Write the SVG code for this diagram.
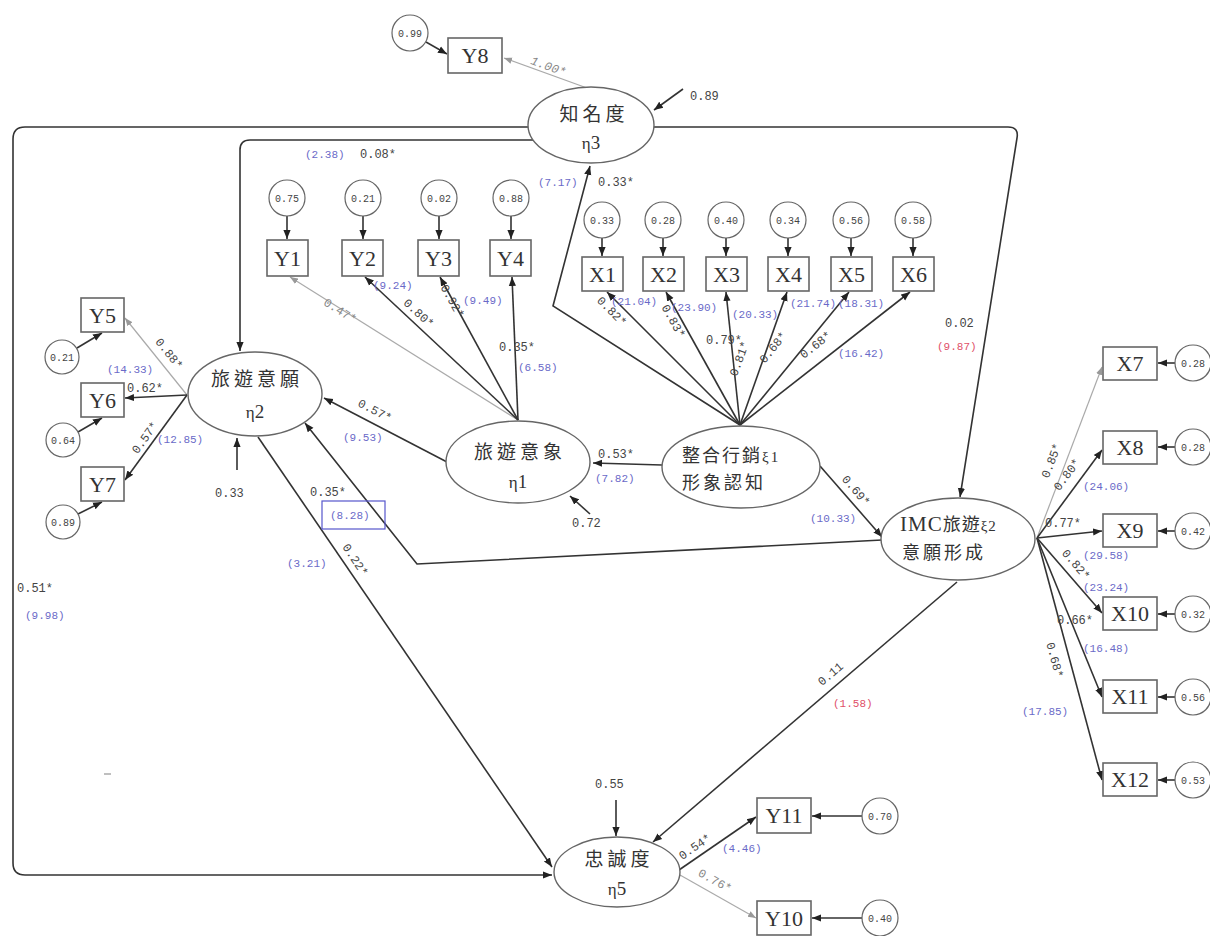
<svg xmlns="http://www.w3.org/2000/svg" width="1210" height="936" viewBox="0 0 1210 936">
<defs>
<marker id="ah" viewBox="0 0 10 10" refX="10" refY="5" markerWidth="9" markerHeight="9" markerUnits="userSpaceOnUse" orient="auto"><path d="M0,1 L10,5 L0,9 z" fill="#222"/></marker>
<marker id="ahg" viewBox="0 0 10 10" refX="10" refY="5" markerWidth="8" markerHeight="8" markerUnits="userSpaceOnUse" orient="auto"><path d="M0,1 L10,5 L0,9 z" fill="#999"/></marker>
</defs>
<style>
.ln{fill:none;stroke:#333;stroke-width:1.6}
.lg{fill:none;stroke:#aaa;stroke-width:1.2}
.bx{fill:#fff;stroke:#666;stroke-width:1.6}
.el{fill:#fff;stroke:#666;stroke-width:1.4}
.ci{fill:#fff;stroke:#666;stroke-width:1.2}
.bt{font-family:"Liberation Serif",serif;font-size:22px;fill:#333;text-anchor:middle}
.ct{font-family:"Liberation Mono",monospace;font-size:10px;fill:#444;text-anchor:middle}
.lb{font-family:"Liberation Mono",monospace;font-size:12px;fill:#444}
.lgt{font-family:"Liberation Mono",monospace;font-size:12px;fill:#888}
.bl{font-family:"Liberation Mono",monospace;font-size:11px;fill:#6a6ac8}
.rd{font-family:"Liberation Mono",monospace;font-size:11px;fill:#e05068}
.cj{font-family:"Noto Sans CJK TC",sans-serif;font-size:19px;fill:#333;text-anchor:middle}
.cs{font-family:"Noto Sans CJK TC",sans-serif;font-size:18px;fill:#333}
.et{font-family:"Liberation Serif",serif;font-size:19px;fill:#333;text-anchor:middle}
</style>
<rect width="1210" height="936" fill="#fff"/>

<g id="connectors">
  <path class="lg" d="M587,88 L504,58" marker-end="url(#ahg)"/>
  <path class="ln" d="M683,89 L654,110" marker-end="url(#ah)"/>
  <path class="ln" d="M533,140 H250 Q240,140 240,150 V351" marker-end="url(#ah)"/>
  <path class="ln" d="M528,127 H25 Q13,127 13,139 V863 Q13,875 25,875 H552" marker-end="url(#ah)"/>
  <path class="ln" d="M654,127 H1008 Q1019,127 1017,138 L960,497" marker-end="url(#ah)"/>
  <path class="ln" d="M740,425 L553,306 L590,166" marker-end="url(#ah)"/>
  <path class="lg" d="M518,420 L290,277" marker-end="url(#ahg)"/>
  <path class="ln" d="M518,420 L365,277" marker-end="url(#ah)"/>
  <path class="ln" d="M518,420 L440,277" marker-end="url(#ah)"/>
  <path class="ln" d="M518,420 L512,277" marker-end="url(#ah)"/>
  <path class="ln" d="M740,425 L607,292" marker-end="url(#ah)"/>
  <path class="ln" d="M740,425 L666,292" marker-end="url(#ah)"/>
  <path class="ln" d="M740,425 L726,292" marker-end="url(#ah)"/>
  <path class="ln" d="M740,425 L787,292" marker-end="url(#ah)"/>
  <path class="ln" d="M740,425 L849,292" marker-end="url(#ah)"/>
  <path class="ln" d="M740,425 L910,292" marker-end="url(#ah)"/>
  <path class="ln" d="M662,465 L593,463" marker-end="url(#ah)"/>
  <path class="ln" d="M447,462 L324,398" marker-end="url(#ah)"/>
  <path class="ln" d="M590,514 L570,496" marker-end="url(#ah)"/>
  <path class="ln" d="M237,470 L237,438" marker-end="url(#ah)"/>
  <path class="ln" d="M258,437 L552,867" marker-end="url(#ah)"/>
  <path class="ln" d="M882,540 L417,564 L305,423" marker-end="url(#ah)"/>
  <path class="ln" d="M820,466 L882,537" marker-end="url(#ah)"/>
  <path class="ln" d="M957,582 L653,842" marker-end="url(#ah)"/>
  <path class="ln" d="M616,800 L616,836" marker-end="url(#ah)"/>
  <path class="lg" d="M187,395 L125,318" marker-end="url(#ahg)"/>
  <path class="ln" d="M187,395 L125,398" marker-end="url(#ah)"/>
  <path class="ln" d="M187,395 L125,480" marker-end="url(#ah)"/>
  <path class="lg" d="M1037,538 L1102,367" marker-end="url(#ahg)"/>
  <path class="ln" d="M1037,538 L1102,450" marker-end="url(#ah)"/>
  <path class="ln" d="M1037,538 L1102,531" marker-end="url(#ah)"/>
  <path class="ln" d="M1037,538 L1102,613" marker-end="url(#ah)"/>
  <path class="ln" d="M1037,538 L1102,697" marker-end="url(#ah)"/>
  <path class="ln" d="M1037,538 L1102,780" marker-end="url(#ah)"/>
  <path class="ln" d="M679,870 L756,817" marker-end="url(#ah)"/>
  <path class="lg" d="M680,875 L756,918" marker-end="url(#ahg)"/>
  <path class="ln" d="M426,42 L447,54" marker-end="url(#ah)"/>
  <path class="ln" d="M287,216 V239" marker-end="url(#ah)"/>
  <path class="ln" d="M363,216 V239" marker-end="url(#ah)"/>
  <path class="ln" d="M439,216 V239" marker-end="url(#ah)"/>
  <path class="ln" d="M511,216 V239" marker-end="url(#ah)"/>
  <path class="ln" d="M602,238 V256" marker-end="url(#ah)"/>
  <path class="ln" d="M663,238 V256" marker-end="url(#ah)"/>
  <path class="ln" d="M726,238 V256" marker-end="url(#ah)"/>
  <path class="ln" d="M788,238 V256" marker-end="url(#ah)"/>
  <path class="ln" d="M851,238 V256" marker-end="url(#ah)"/>
  <path class="ln" d="M913,238 V256" marker-end="url(#ah)"/>
  <path class="ln" d="M77,348 L102,333" marker-end="url(#ah)"/>
  <path class="ln" d="M78,432 L102,418" marker-end="url(#ah)"/>
  <path class="ln" d="M78,514 L102,502" marker-end="url(#ah)"/>
  <path class="ln" d="M1175,363 H1158" marker-end="url(#ah)"/>
  <path class="ln" d="M1175,447 H1158" marker-end="url(#ah)"/>
  <path class="ln" d="M1175,531 H1158" marker-end="url(#ah)"/>
  <path class="ln" d="M1175,614 H1158" marker-end="url(#ah)"/>
  <path class="ln" d="M1175,697 H1158" marker-end="url(#ah)"/>
  <path class="ln" d="M1175,780 H1158" marker-end="url(#ah)"/>
  <path class="ln" d="M862,816 H812" marker-end="url(#ah)"/>
  <path class="ln" d="M862,918 H812" marker-end="url(#ah)"/>
  <line x1="104" y1="774" x2="111" y2="774" stroke="#aaa" stroke-width="1.5"/>

  <text class="lgt" font-style="italic" transform="translate(547,70) rotate(20)" text-anchor="middle">1.00*</text>
  <text class="lb" x="690" y="100">0.89</text>
  <text class="bl" x="305" y="158">(2.38)</text>
  <text class="lb" x="360" y="158">0.08*</text>
  <text class="bl" x="538" y="186">(7.17)</text>
  <text class="lb" x="598" y="186">0.33*</text>
  <text class="lgt" transform="translate(338,314) rotate(32)" text-anchor="middle">0.47*</text>
  <text class="lb" transform="translate(416,316) rotate(43)" text-anchor="middle">0.80*</text>
  <text class="lb" transform="translate(449,303) rotate(61)" text-anchor="middle">0.92*</text>
  <text class="bl" x="373" y="289">(9.24)</text>
  <text class="bl" x="463" y="304">(9.49)</text>
  <text class="lb" x="499" y="351">0.35*</text>
  <text class="bl" x="518" y="371">(6.58)</text>
  <text class="lb" transform="translate(609,314) rotate(45)" text-anchor="middle">0.82*</text>
  <text class="lb" transform="translate(670,323) rotate(61)" text-anchor="middle">0.83*</text>
  <text class="lb" x="706" y="344">0.79*</text>
  <text class="lb" transform="translate(743,360) rotate(-70)" text-anchor="middle">0.81*</text>
  <text class="lb" transform="translate(776,350) rotate(-51)" text-anchor="middle">0.68*</text>
  <text class="lb" transform="translate(818,348) rotate(-38)" text-anchor="middle">0.68*</text>
  <text class="bl" x="611" y="305">(21.04)</text>
  <text class="bl" x="671" y="311">(23.90)</text>
  <text class="bl" x="732" y="318">(20.33)</text>
  <text class="bl" x="790" y="307">(21.74)</text>
  <text class="bl" x="838" y="307">(18.31)</text>
  <text class="bl" x="838" y="357">(16.42)</text>
  <text class="lb" transform="translate(373,414) rotate(27)" text-anchor="middle">0.57*</text>
  <text class="bl" x="343" y="441">(9.53)</text>
  <text class="lb" x="598" y="458">0.53*</text>
  <text class="bl" x="595" y="482">(7.82)</text>
  <text class="lb" x="572" y="527">0.72</text>
  <text class="lb" transform="translate(166,356) rotate(51)" text-anchor="middle">0.88*</text>
  <text class="bl" x="107" y="373">(14.33)</text>
  <text class="lb" x="127" y="392">0.62*</text>
  <text class="lb" transform="translate(148,440) rotate(-54)" text-anchor="middle">0.57*</text>
  <text class="bl" x="157" y="443">(12.85)</text>
  <text class="lb" x="215" y="497">0.33</text>
  <text class="lb" x="310" y="496">0.35*</text>
  <rect x="322" y="501" width="63" height="28" fill="none" stroke="#5555cc" stroke-width="1.2"/>
  <text class="bl" x="330" y="519">(8.28)</text>
  <text class="lb" transform="translate(352,562) rotate(56)" text-anchor="middle">0.22*</text>
  <text class="bl" x="287" y="567">(3.21)</text>
  <text class="lb" x="17" y="592">0.51*</text>
  <text class="bl" x="25" y="619">(9.98)</text>
  <text class="lb" x="945" y="327">0.02</text>
  <text class="rd" x="937" y="350">(9.87)</text>
  <text class="lb" transform="translate(853,493) rotate(49)" text-anchor="middle">0.69*</text>
  <text class="bl" x="810" y="522">(10.33)</text>
  <text class="lb" transform="translate(833,677) rotate(-40.5)" text-anchor="middle">0.11</text>
  <text class="rd" x="833" y="707">(1.58)</text>
  <text class="lb" transform="translate(1055,462) rotate(-69)" text-anchor="middle">0.85*</text>
  <text class="lb" transform="translate(1070,477) rotate(-53)" text-anchor="middle">0.80*</text>
  <text class="bl" x="1083" y="490">(24.06)</text>
  <text class="lb" x="1045" y="527">0.77*</text>
  <text class="bl" x="1083" y="559">(29.58)</text>
  <text class="lb" transform="translate(1073,567) rotate(49)" text-anchor="middle">0.82*</text>
  <text class="bl" x="1083" y="591">(23.24)</text>
  <text class="lb" x="1057" y="624">0.66*</text>
  <text class="bl" x="1083" y="652">(16.48)</text>
  <text class="lb" transform="translate(1051,661) rotate(75)" text-anchor="middle">0.68*</text>
  <text class="bl" x="1022" y="715">(17.85)</text>
  <text class="lb" x="595" y="788">0.55</text>
  <text class="lb" transform="translate(697,850) rotate(-34.5)" text-anchor="middle">0.54*</text>
  <text class="bl" x="722" y="852">(4.46)</text>
  <text class="lgt" transform="translate(713,884) rotate(29.5)" text-anchor="middle">0.76*</text>
</g>

<g id="eta3"><ellipse class="el" cx="591" cy="125" rx="63" ry="38"/><text class="cj" x="594" y="121" letter-spacing="4">知名度</text><text class="et" x="591" y="149"><tspan font-size="17">η</tspan>3</text></g>
<g id="eta2"><ellipse class="el" cx="255" cy="394" rx="67" ry="42"/><text class="cj" x="257" y="386" letter-spacing="4">旅遊意願</text><text class="et" x="255" y="418"><tspan font-size="17">η</tspan>2</text></g>
<g id="eta1"><ellipse class="el" cx="518" cy="462" rx="72" ry="41"/><text class="cj" x="520" y="459" letter-spacing="4">旅遊意象</text><text class="et" x="518" y="488"><tspan font-size="17">η</tspan>1</text></g>
<g id="xi1"><ellipse class="el" cx="741" cy="467" rx="79" ry="41"/><text class="cs" x="682" y="462" letter-spacing="2">整合行銷<tspan font-family="Liberation Serif" font-size="15">ξ1</tspan></text><text class="cs" x="682" y="489" letter-spacing="3">形象認知</text></g>
<g id="xi2"><ellipse class="el" cx="958" cy="539" rx="77" ry="41"/><text class="cs" x="900" y="531" letter-spacing="1"><tspan font-family="Liberation Serif" font-size="21">IMC</tspan>旅遊<tspan font-family="Liberation Serif" font-size="15">ξ2</tspan></text><text class="cs" x="902" y="559" letter-spacing="3">意願形成</text></g>
<g id="eta5"><ellipse class="el" cx="617" cy="872" rx="63" ry="35"/><text class="cj" x="619" y="866" letter-spacing="4">忠誠度</text><text class="et" x="617" y="895"><tspan font-size="17">η</tspan>5</text></g>

<g id="Y8"><rect class="bx" x="448" y="38" width="54" height="35"/><text class="bt" x="475" y="63">Y8</text></g>
<g id="Y1"><rect class="bx" x="267" y="240" width="41" height="36"/><text class="bt" x="287.5" y="266">Y1</text></g>
<g id="Y2"><rect class="bx" x="342" y="240" width="41" height="36"/><text class="bt" x="362.5" y="266">Y2</text></g>
<g id="Y3"><rect class="bx" x="418" y="240" width="41" height="36"/><text class="bt" x="438.5" y="266">Y3</text></g>
<g id="Y4"><rect class="bx" x="490" y="240" width="41" height="36"/><text class="bt" x="510.5" y="266">Y4</text></g>
<g id="X1"><rect class="bx" x="582" y="257" width="41" height="34"/><text class="bt" x="602.5" y="282">X1</text></g>
<g id="X2"><rect class="bx" x="643" y="257" width="41" height="34"/><text class="bt" x="663.5" y="282">X2</text></g>
<g id="X3"><rect class="bx" x="706" y="257" width="41" height="34"/><text class="bt" x="726.5" y="282">X3</text></g>
<g id="X4"><rect class="bx" x="768" y="257" width="41" height="34"/><text class="bt" x="788.5" y="282">X4</text></g>
<g id="X5"><rect class="bx" x="831" y="257" width="41" height="34"/><text class="bt" x="851.5" y="282">X5</text></g>
<g id="X6"><rect class="bx" x="893" y="257" width="41" height="34"/><text class="bt" x="913.5" y="282">X6</text></g>
<g id="Y5"><rect class="bx" x="81" y="298" width="43" height="34"/><text class="bt" x="102.5" y="323">Y5</text></g>
<g id="Y6"><rect class="bx" x="81" y="383" width="43" height="34"/><text class="bt" x="102.5" y="408">Y6</text></g>
<g id="Y7"><rect class="bx" x="81" y="467" width="43" height="34"/><text class="bt" x="102.5" y="492">Y7</text></g>
<g id="X7"><rect class="bx" x="1103" y="347" width="54" height="33"/><text class="bt" x="1130" y="371">X7</text></g>
<g id="X8"><rect class="bx" x="1103" y="431" width="54" height="33"/><text class="bt" x="1130" y="455">X8</text></g>
<g id="X9"><rect class="bx" x="1103" y="514" width="54" height="33"/><text class="bt" x="1130" y="538">X9</text></g>
<g id="X10"><rect class="bx" x="1103" y="597" width="54" height="33"/><text class="bt" x="1130" y="621">X10</text></g>
<g id="X11"><rect class="bx" x="1103" y="680" width="54" height="33"/><text class="bt" x="1130" y="704">X11</text></g>
<g id="X12"><rect class="bx" x="1103" y="763" width="54" height="33"/><text class="bt" x="1130" y="787">X12</text></g>
<g id="Y11"><rect class="bx" x="757" y="798" width="54" height="35"/><text class="bt" x="784" y="823">Y11</text></g>
<g id="Y10"><rect class="bx" x="757" y="901" width="54" height="34"/><text class="bt" x="784" y="926">Y10</text></g>

<g id="errors">
  <g id="eY8"><circle class="ci" cx="410" cy="33" r="18"/><text class="ct" x="410" y="37">0.99</text></g>
  <g id="eY1"><circle class="ci" cx="287" cy="198" r="18"/><text class="ct" x="287" y="202">0.75</text></g>
  <g id="eY2"><circle class="ci" cx="363" cy="198" r="18"/><text class="ct" x="363" y="202">0.21</text></g>
  <g id="eY3"><circle class="ci" cx="439" cy="198" r="18"/><text class="ct" x="439" y="202">0.02</text></g>
  <g id="eY4"><circle class="ci" cx="511" cy="198" r="18"/><text class="ct" x="511" y="202">0.88</text></g>
  <g id="eX1"><circle class="ci" cx="602" cy="220" r="18"/><text class="ct" x="602" y="224">0.33</text></g>
  <g id="eX2"><circle class="ci" cx="663" cy="220" r="18"/><text class="ct" x="663" y="224">0.28</text></g>
  <g id="eX3"><circle class="ci" cx="726" cy="220" r="18"/><text class="ct" x="726" y="224">0.40</text></g>
  <g id="eX4"><circle class="ci" cx="788" cy="220" r="18"/><text class="ct" x="788" y="224">0.34</text></g>
  <g id="eX5"><circle class="ci" cx="851" cy="220" r="18"/><text class="ct" x="851" y="224">0.56</text></g>
  <g id="eX6"><circle class="ci" cx="913" cy="220" r="18"/><text class="ct" x="913" y="224">0.58</text></g>
  <g id="eY5"><circle class="ci" cx="62" cy="357" r="17"/><text class="ct" x="62" y="361">0.21</text></g>
  <g id="eY6"><circle class="ci" cx="63" cy="440" r="17"/><text class="ct" x="63" y="444">0.64</text></g>
  <g id="eY7"><circle class="ci" cx="63" cy="522" r="17"/><text class="ct" x="63" y="526">0.89</text></g>
  <g id="eX7"><circle class="ci" cx="1193" cy="363" r="18"/><text class="ct" x="1193" y="367">0.28</text></g>
  <g id="eX8"><circle class="ci" cx="1193" cy="447" r="18"/><text class="ct" x="1193" y="451">0.28</text></g>
  <g id="eX9"><circle class="ci" cx="1193" cy="531" r="18"/><text class="ct" x="1193" y="535">0.42</text></g>
  <g id="eX10"><circle class="ci" cx="1193" cy="614" r="18"/><text class="ct" x="1193" y="618">0.32</text></g>
  <g id="eX11"><circle class="ci" cx="1193" cy="697" r="18"/><text class="ct" x="1193" y="701">0.56</text></g>
  <g id="eX12"><circle class="ci" cx="1193" cy="780" r="18"/><text class="ct" x="1193" y="784">0.53</text></g>
  <g id="eY11"><circle class="ci" cx="880" cy="816" r="18"/><text class="ct" x="880" y="820">0.70</text></g>
  <g id="eY10"><circle class="ci" cx="880" cy="918" r="18"/><text class="ct" x="880" y="922">0.40</text></g>
</g>
</svg>
